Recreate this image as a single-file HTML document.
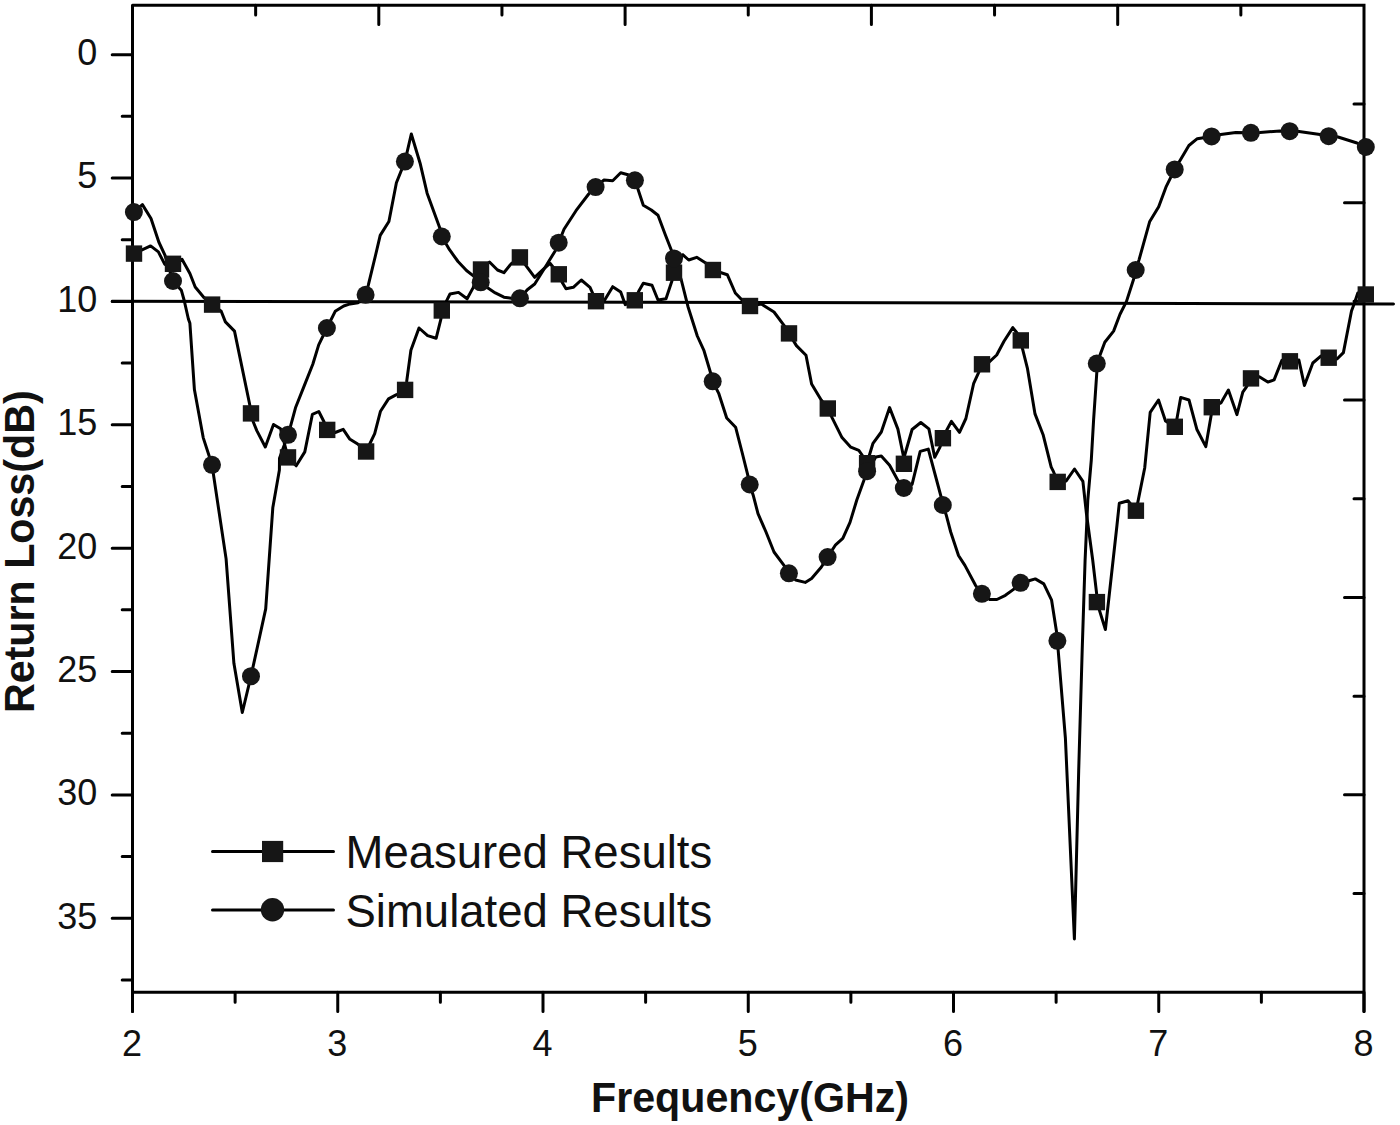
<!DOCTYPE html><html><head><meta charset="utf-8"><style>html,body{margin:0;padding:0;background:#fff;}svg{display:block;}</style></head><body>
<svg width="1400" height="1125" viewBox="0 0 1400 1125">
<rect width="1400" height="1125" fill="#fff"/>
<path d="M132.5,5.3H1364.0V1011.5M132.5,1011.5V5.3M132.5,992.2H1364.0" fill="none" stroke="#000" stroke-width="3.0" stroke-linecap="round" stroke-linejoin="miter"/>
<path d="M112.2,54.65H132.5M122.2,116.34H132.5M112.2,178.03H132.5M122.2,239.71H132.5M112.2,301.40H132.5M122.2,363.09H132.5M112.2,424.78H132.5M122.2,486.46H132.5M112.2,548.15H132.5M122.2,609.84H132.5M112.2,671.52H132.5M122.2,733.21H132.5M112.2,794.90H132.5M122.2,856.59H132.5M112.2,918.27H132.5M122.2,979.96H132.5M132.50,992.2V1011.5M337.75,992.2V1011.5M543.00,992.2V1011.5M748.25,992.2V1011.5M953.50,992.2V1011.5M1158.75,992.2V1011.5M1364.00,992.2V1011.5M235.12,992.2V1002.2M440.38,992.2V1002.2M645.62,992.2V1002.2M850.88,992.2V1002.2M1056.12,992.2V1002.2M1261.38,992.2V1002.2M255.65,5.3V15.1M378.80,5.3V24.6M501.95,5.3V15.1M625.10,5.3V24.6M748.25,5.3V15.1M871.40,5.3V24.6M994.55,5.3V15.1M1117.70,5.3V24.6M1240.85,5.3V15.1M1364.0,103.99H1354.0M1364.0,202.68H1344.5M1364.0,301.37H1354.0M1364.0,400.06H1344.5M1364.0,498.75H1354.0M1364.0,597.44H1344.5M1364.0,696.13H1354.0M1364.0,794.82H1344.5M1364.0,893.51H1354.0" fill="none" stroke="#000" stroke-width="3.0" stroke-linecap="round"/>
<path d="M112.3,301.2L1393.5,303.9" fill="none" stroke="#000" stroke-width="3.0" stroke-linecap="round"/>
<g font-family="Liberation Sans, sans-serif" font-size="36" fill="#111"><text x="132.0" y="1055.9" text-anchor="middle">2</text><text x="337.2" y="1055.9" text-anchor="middle">3</text><text x="542.5" y="1055.9" text-anchor="middle">4</text><text x="747.8" y="1055.9" text-anchor="middle">5</text><text x="953.0" y="1055.9" text-anchor="middle">6</text><text x="1158.2" y="1055.9" text-anchor="middle">7</text><text x="1363.5" y="1055.9" text-anchor="middle">8</text><text x="97.4" y="65.0" text-anchor="end">0</text><text x="97.4" y="188.4" text-anchor="end">5</text><text x="97.4" y="311.8" text-anchor="end">10</text><text x="97.4" y="435.2" text-anchor="end">15</text><text x="97.4" y="558.5" text-anchor="end">20</text><text x="97.4" y="681.9" text-anchor="end">25</text><text x="97.4" y="805.3" text-anchor="end">30</text><text x="97.4" y="928.7" text-anchor="end">35</text></g>
<text transform="translate(591,1112) scale(1,1.04)" x="0" y="0" font-family="Liberation Sans, sans-serif" font-weight="bold" font-size="41.2" fill="#111">Frequency(GHz)</text>
<text transform="translate(34,713) rotate(-90) scale(1,1.04)" x="0" y="0" font-family="Liberation Sans, sans-serif" font-weight="bold" font-size="41.2" fill="#111">Return Loss(dB)</text>
<polyline points="134,253.6 150.6,245.9 158.4,251.9 164.8,264.4 173,263.8 182,259.3 189.9,273.5 195.2,287 204.1,297.7 212.1,304.6 221.2,311.2 225.4,321.9 234.5,331.1 249.6,404 251,413.4 253.2,421.7 256.8,430.6 265.3,447 273.5,424.5 280.6,428.8 288,457.4 296.2,465.8 304.8,451.9 312.4,414.3 318.8,411.5 324,421.8 327.2,429.9 335.2,432.5 343.2,429.3 349.6,438.9 358.1,444.3 366.1,451.5 374.7,433.6 380.5,411.2 388.5,398.9 396.5,394.7 405.1,389.9 406.7,381.3 410.9,350.3 419,328 427.6,335.6 436.1,338.3 440.9,319.1 441.8,310.5 446.8,300.4 450,294 458.5,292.4 467.1,298.8 472.9,288.1 481,269.5 489.5,262 497.5,270 503.9,272.7 511.3,263.6 519.9,257.4 526.7,266.7 534.7,277.3 544,268.7 550,263.3 558.8,274.3 562.7,283.3 566,288.7 573.3,287.3 581.3,280 590,287.3 592.7,293.3 596,301.2 604.7,300 612.7,286.7 620.7,292 625.3,304.7 634.8,300.3 638.7,291.3 643.3,283.3 652,285.3 658,300 666,298.7 672,280.7 674,272.7 682.7,254.7 688.7,260 696.7,257.3 705.3,262.7 712.9,270 727.3,274.7 735.3,293 741.3,299.3 750,306 761.3,304 774,312 784,325.3 789,333.4 796.4,345.6 806,355.2 811.6,384 821.2,400 827.8,408.5 832.4,418.4 842,437.6 850.8,447.2 858.8,450.4 862.8,456 867.1,463.2 869.6,454.5 873,443.3 881.3,432 889.6,407.6 897.9,429.1 903.3,455.5 903.9,463.8 904.6,455.5 912.1,429.5 920.8,422.5 928.9,428.9 934.7,457.2 939.9,447.4 942.9,438.2 946.8,430 951.4,421.4 959.5,432.3 965.9,418.5 973.7,383.3 978.6,372.6 982,364.3 989.3,361.8 996.7,355 1004,341.3 1012.8,327.6 1016.7,332.5 1020.8,340.4 1022.6,349.1 1027.5,368.7 1035,413.9 1043.1,434.7 1051.2,467.1 1053.5,471.7 1057.7,481.9 1066.2,480.9 1074.5,469 1082.9,481.3 1086.4,513.3 1092.7,560 1096.6,593.4 1096.9,602.1 1105.4,629.5 1117,525 1119.3,503.3 1128,500.7 1135.9,510.7 1138,501.3 1144.7,468 1150.2,412.3 1158.5,400 1165.5,421 1174.8,426.8 1176.7,420 1180.7,397.4 1189,400 1196.8,429.2 1205.8,446.6 1211.3,414.6 1211.8,407.2 1220.9,402.9 1228.4,390.1 1236.9,414.6 1242.8,392.2 1246.5,386.9 1251,378.4 1259.3,376.8 1267.8,382.1 1274.1,379.9 1281.9,360.3 1289.9,361.3 1298.9,360.1 1304.4,385.5 1312.8,363 1320.8,356.1 1328.7,357.7 1337,359 1343.4,352.6 1351.5,311 1354.3,303.5 1357.8,293.1 1365.8,294.5" fill="none" stroke="#000" stroke-width="3.0" stroke-linejoin="round" stroke-linecap="round"/>
<polyline points="133.9,212.1 142.4,204.6 151,218.5 158.8,242 164.8,254.8 173,281 181.3,290.2 184.2,300.5 188.4,319 189.9,323.3 194.4,389.6 203.2,437.6 212,464.8 226.1,558.9 233.9,663.3 242.3,712.5 251,676.2 265.7,608.9 272.8,507.8 279.4,470 279.5,458.3 288,434.8 290.5,426.3 295.5,407.8 304.3,385.6 312.8,364.3 318.7,344.9 326.9,328 335.2,311.3 343.7,306 350.1,303.9 358.1,302.8 365.6,294.8 368.3,285.2 375.6,255 380.2,235.4 388.9,221.5 396.4,182.8 404.9,161.6 411.3,134 420.1,163.2 427.1,193.2 439.8,227.9 441.8,236.5 449.5,249.7 458,261.5 466.5,270.5 474,276.4 480.7,282.3 487.9,288.1 495.3,292.9 503.9,297.2 511.3,298.3 519.9,298.3 527.3,289.7 534.7,284 544.7,268 555.3,250.7 558.7,242.7 564,229.3 576,210.7 588.7,194 595.6,187.1 604,180 612.7,180.7 620.7,172.7 628,174.7 634.9,180.3 638,189.3 643.3,205.3 651.3,210 658,215.3 665.3,234.7 671.3,250 674,258.4 681.3,280 688,306.7 697.3,336 704,350.7 710.7,373.3 712.7,381.3 718.7,393.3 726.7,418 735.6,427.2 742,452 747.6,474.4 749.7,484.5 753.2,495.2 758,513.6 766,532 774,552 783.6,564.8 788.9,573.3 795.6,580 805.2,582.4 811.6,578.4 821.2,567.2 827.6,557.1 835.6,544.8 842.8,538.4 850,522.4 856.8,500 864.2,479.5 867.1,471.2 875.9,457 881.3,456 889.6,465.3 897.9,480.5 903.8,488 912.1,484.3 920.2,451.4 928.3,449.1 941,496.5 942.8,505 946.4,515.6 950.7,532 958.5,555.5 964.9,565.4 975.5,585.3 981.9,593.8 989.8,599.5 996.9,599.5 1005.4,595.3 1013.2,589.6 1020.6,582.8 1028.9,580.8 1035.3,578.9 1043.8,583.9 1051.6,600.2 1056.6,632.2 1057.4,640.8 1065.4,738.2 1074.4,939 1078.7,770.2 1082.2,650 1085.1,560 1087.8,500 1091.3,460 1093.6,419.9 1096.8,372.7 1096.8,363.6 1104.8,342.3 1113.6,331.1 1120,314.3 1126.4,301.6 1133.6,279.2 1135.7,270 1139.1,259.6 1149.6,221.8 1158.7,206.7 1166.3,186.3 1174.7,169.4 1188.9,145.5 1197.3,138.7 1211.6,136.4 1220.7,134.5 1235.8,132.4 1250.9,132.8 1260,132.5 1280,131 1289.7,131.2 1299,131.5 1320,134.5 1328.7,136.2 1338,137 1357,143 1365.8,147" fill="none" stroke="#000" stroke-width="3.0" stroke-linejoin="round" stroke-linecap="round"/>
<g fill="#161616"><rect x="125.80" y="245.40" width="16.4" height="16.4"/><rect x="164.80" y="255.60" width="16.4" height="16.4"/><rect x="203.90" y="296.40" width="16.4" height="16.4"/><rect x="242.80" y="405.20" width="16.4" height="16.4"/><rect x="279.80" y="449.20" width="16.4" height="16.4"/><rect x="319.00" y="421.70" width="16.4" height="16.4"/><rect x="357.90" y="443.30" width="16.4" height="16.4"/><rect x="396.90" y="381.70" width="16.4" height="16.4"/><rect x="433.60" y="302.30" width="16.4" height="16.4"/><rect x="472.80" y="261.30" width="16.4" height="16.4"/><rect x="511.70" y="249.20" width="16.4" height="16.4"/><rect x="550.60" y="266.10" width="16.4" height="16.4"/><rect x="587.80" y="293.00" width="16.4" height="16.4"/><rect x="626.60" y="292.10" width="16.4" height="16.4"/><rect x="665.80" y="264.50" width="16.4" height="16.4"/><rect x="704.70" y="261.80" width="16.4" height="16.4"/><rect x="741.80" y="297.80" width="16.4" height="16.4"/><rect x="780.80" y="325.20" width="16.4" height="16.4"/><rect x="819.60" y="400.30" width="16.4" height="16.4"/><rect x="858.90" y="455.00" width="16.4" height="16.4"/><rect x="895.70" y="455.60" width="16.4" height="16.4"/><rect x="934.70" y="430.00" width="16.4" height="16.4"/><rect x="973.80" y="356.10" width="16.4" height="16.4"/><rect x="1012.60" y="332.20" width="16.4" height="16.4"/><rect x="1049.50" y="473.70" width="16.4" height="16.4"/><rect x="1088.70" y="593.90" width="16.4" height="16.4"/><rect x="1127.70" y="502.50" width="16.4" height="16.4"/><rect x="1166.60" y="418.60" width="16.4" height="16.4"/><rect x="1203.60" y="399.00" width="16.4" height="16.4"/><rect x="1242.80" y="370.20" width="16.4" height="16.4"/><rect x="1281.70" y="353.10" width="16.4" height="16.4"/><rect x="1320.50" y="349.50" width="16.4" height="16.4"/><rect x="1357.60" y="286.30" width="16.4" height="16.4"/></g>
<g fill="#161616"><circle cx="133.9" cy="212.1" r="9.0"/><circle cx="173" cy="281" r="9.0"/><circle cx="212" cy="464.8" r="9.0"/><circle cx="251" cy="676.2" r="9.0"/><circle cx="288" cy="434.8" r="9.0"/><circle cx="326.9" cy="328" r="9.0"/><circle cx="365.6" cy="294.8" r="9.0"/><circle cx="404.9" cy="161.6" r="9.0"/><circle cx="441.8" cy="236.5" r="9.0"/><circle cx="480.7" cy="282.3" r="9.0"/><circle cx="519.9" cy="298.3" r="9.0"/><circle cx="558.7" cy="242.7" r="9.0"/><circle cx="595.6" cy="187.1" r="9.0"/><circle cx="634.9" cy="180.3" r="9.0"/><circle cx="674" cy="258.4" r="9.0"/><circle cx="712.7" cy="381.3" r="9.0"/><circle cx="749.7" cy="484.5" r="9.0"/><circle cx="788.9" cy="573.3" r="9.0"/><circle cx="827.6" cy="557.1" r="9.0"/><circle cx="867.1" cy="471.2" r="9.0"/><circle cx="903.8" cy="488" r="9.0"/><circle cx="942.8" cy="505" r="9.0"/><circle cx="981.9" cy="593.8" r="9.0"/><circle cx="1020.6" cy="582.8" r="9.0"/><circle cx="1057.4" cy="640.8" r="9.0"/><circle cx="1096.8" cy="363.6" r="9.0"/><circle cx="1135.7" cy="270" r="9.0"/><circle cx="1174.7" cy="169.4" r="9.0"/><circle cx="1211.6" cy="136.4" r="9.0"/><circle cx="1250.9" cy="132.8" r="9.0"/><circle cx="1289.7" cy="131.2" r="9.0"/><circle cx="1328.7" cy="136.2" r="9.0"/><circle cx="1365.8" cy="147" r="9.0"/></g>
<path d="M212.5,851.6H333.5M212.5,910.1H333.5" fill="none" stroke="#000" stroke-width="3.0" stroke-linecap="round"/>
<rect x="262" y="840.9" width="21.2" height="21.2" fill="#161616"/>
<circle cx="272.5" cy="909.8" r="11.7" fill="#161616"/>
<g font-family="Liberation Sans, sans-serif" font-size="45.5" fill="#111"><text x="345.5" y="868">Measured Results</text><text x="345.5" y="926.5">Simulated Results</text></g>
</svg></body></html>
